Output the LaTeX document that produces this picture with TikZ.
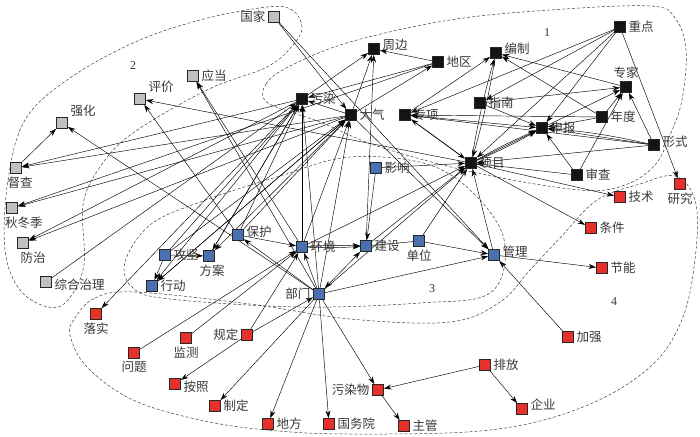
\documentclass[tikz,border=0pt]{standalone}
\usepackage{fontspec}
\setmainfont{Liberation Serif}
\newfontfamily\cjk{Noto Sans CJK SC}
\usetikzlibrary{arrows.meta}
\definecolor{myblue}{HTML}{4A70B0}
\definecolor{myred}{HTML}{E8302A}
\definecolor{mygray}{HTML}{C0C0C0}
\pgfdeclarelayer{bg}
\pgfsetlayers{bg,main}
\begin{document}
\begin{tikzpicture}[x=1pt,y=-1pt,
 nd/.style={draw=black!85, line width=0.8pt, minimum size=11pt, inner sep=0pt},
 bk/.style={nd, fill=black!92},
 gy/.style={nd, fill=mygray},
 bl/.style={nd, fill=myblue},
 rd/.style={nd, fill=myred},
 lbl/.style={font=\cjk\fontsize{12.5}{12.5}\selectfont, text=black!78, inner sep=2.5pt},
 e/.style={-{Stealth[length=7.5pt,width=5pt]}, line width=0.45pt},
 ee/.style={{Stealth[length=7.5pt,width=5pt]}-{Stealth[length=7.5pt,width=5pt]}, line width=0.8pt},
 bound/.style={dash pattern=on 3pt off 2pt, line width=0.5pt, black!75},
 num/.style={font=\fontsize{12}{12}\selectfont, text=black!80},
]
\useasboundingbox (0,0) rectangle (700,436);

% cluster 1 (black)
\node[bk, label={[lbl]right:重点}] (zd) at (620,27) {};
\node[bk, label={[lbl,yshift=4pt]right:周边}] (zb) at (374,49) {};
\node[bk, label={[lbl,yshift=4pt]right:编制}] (bz) at (496,53) {};
\node[bk, label={[lbl]right:地区}] (dq) at (438,62) {};
\node[bk, label={[lbl]above:专家}] (zj) at (626,87) {};
\node[bk, label={[lbl]right:污染}] (wr) at (302,99) {};
\node[bk, label={[lbl]right:大气}] (dqi) at (351,115) {};
\node[bk, label={[lbl]right:专项}] (zx) at (405,115) {};
\node[bk, label={[lbl]right:指南}] (zn) at (480,103) {};
\node[bk, label={[lbl]right:年度}] (ndu) at (602,117) {};
\node[bk, label={[lbl]right:申报}] (sb) at (542,128) {};
\node[bk, label={[lbl,yshift=3pt]right:形式}] (xs) at (654,145) {};
\node[bk, label={[lbl]right:项目}] (xm) at (471,163) {};
\node[bk, label={[lbl]right:审查}] (sc) at (577,175) {};

% cluster 2 (gray)
\node[gy, label={[lbl]left:国家}] (gj) at (274,17) {};
\node[gy, label={[lbl]right:应当}] (yd) at (193,76) {};
\node[gy, label={[lbl,yshift=-2pt]above right:评价}] (pj) at (140,99) {};
\node[gy, label={[lbl,yshift=-2pt]above right:强化}] (qh) at (62,123) {};
\node[gy, label={[lbl,xshift=4pt]below:督查}] (dc) at (16,168) {};
\node[gy, label={[lbl,xshift=12pt]below:秋冬季}] (qdj) at (12,208) {};
\node[gy, label={[lbl,xshift=10pt]below:防治}] (fz) at (23,243) {};
\node[gy, label={[lbl,yshift=-3pt]right:综合治理}] (zhzl) at (46,282) {};

% cluster 3 (blue)
\node[bl, label={[lbl]right:影响}] (yx) at (376,168) {};
\node[bl, label={[lbl,yshift=3pt]right:保护}] (bh) at (238,235) {};
\node[bl, label={[lbl]right:环境}] (hj) at (302,247) {};
\node[bl, label={[lbl]right:攻坚}] (gjian) at (165,255) {};
\node[bl, label={[lbl,xshift=3pt]below:方案}] (fa) at (209,256) {};
\node[bl, label={[lbl]right:建设}] (js) at (366,246) {};
\node[bl, label={[lbl]below:单位}] (dw) at (419,241) {};
\node[bl, label={[lbl,yshift=3pt]right:管理}] (gl) at (494,255) {};
\node[bl, label={[lbl]right:行动}] (xd) at (152,286) {};
\node[bl, label={[lbl]left:部门}] (bm) at (319,294) {};

% cluster 4 (red)
\node[rd, label={[lbl]right:技术}] (jsh) at (620,197) {};
\node[rd, label={[lbl]below:研究}] (yj) at (680,184) {};
\node[rd, label={[lbl]right:条件}] (tj) at (591,228) {};
\node[rd, label={[lbl]right:节能}] (jn) at (602,268) {};
\node[rd, label={[lbl]below:落实}] (ls) at (96,314) {};
\node[rd, label={[lbl]left:规定}] (gd) at (247,335) {};
\node[rd, label={[lbl]right:加强}] (jq) at (568,337) {};
\node[rd, label={[lbl]below:监测}] (jc) at (186,338) {};
\node[rd, label={[lbl]below:问题}] (wt) at (134,353) {};
\node[rd, label={[lbl]right:排放}] (pf) at (485,365) {};
\node[rd, label={[lbl,yshift=-3pt]right:按照}] (az) at (175,384) {};
\node[rd, label={[lbl]left:污染物}] (wrw) at (378,390) {};
\node[rd, label={[lbl]right:制定}] (zdi) at (215,406) {};
\node[rd, label={[lbl,yshift=4pt]right:企业}] (qy) at (522,409) {};
\node[rd, label={[lbl]right:地方}] (df) at (268,424) {};
\node[rd, label={[lbl]right:国务院}] (gwy) at (329,424) {};
\node[rd, label={[lbl]right:主管}] (zg) at (404,426) {};

\node[num] (n1) at (547,33) {1};
\node[num] (n2) at (133,66) {2};
\node[num] (n3) at (432,289) {3};
\node[num] (n4) at (614,302) {4};

\begin{pgfonlayer}{bg}
% cluster outlines
\draw[bound] plot[smooth cycle, tension=0.6] coordinates {(268,103) (266,84) (290,66) (350,42) (450,20) (550,10) (650,6) (675,18) (686,50) (682,100) (670,135) (655,165) (625,185) (580,190) (477,173) (380,147) (320,122)};
\draw[bound] plot[smooth cycle, tension=0.6] coordinates {(5,250) (8,180) (25,120) (67,80) (133,43) (200,20) (267,7) (292,10) (302,27) (293,45) (267,67) (207,90) (133,133) (100,167) (83,205) (84,265) (68,300) (48,307) (20,290)};
\draw[bound] plot[smooth cycle, tension=0.6] coordinates {(125,262) (150,225) (200,202) (280,176) (350,157) (430,165) (480,200) (505,245) (490,293) (420,303) (300,307) (170,299) (133,288)};
\draw[bound] plot[smooth cycle, tension=0.6] coordinates {(75,318) (95,298) (135,292) (250,304) (350,319) (450,322) (500,302) (530,270) (560,238) (597,200) (640,184) (675,176) (695,200) (696,250) (683,317) (650,367) (583,407) (490,430) (350,434) (267,430) (200,420) (133,400) (87,367) (70,335)};

% edges cluster 1
\draw[e] (dq) -- (zb);
\draw[e] (dqi) -- (zb);
\draw[e] (wr) -- (zb);
\draw[e] (js) -- (zb);
\draw[e] (dqi) -- (dq);
\draw[e] (dq) -- (wr);
\draw[e] (dqi) -- (wr);
\draw[ee] (zx) -- (xm);
\draw[e] (zx) -- (bz);
\draw[e] (xm) to[bend left=3] (bz);
\draw[e] (bz) to[bend left=3] (xm);
\draw[e] (zj) -- (bz);
\draw[e] (ndu) -- (bz);
\draw[e] (zd) -- (xm);
\draw[e] (zd) -- (sb);
\draw[e] (zd) -- (yj);
\draw[e] (zd) -- (zn);
\draw[e] (zd) -- (zx);
\draw[e] (zn) -- (zj);
\draw[e] (zn) -- (sb);
\draw[e] (zx) -- (sb);
\draw[e] (ndu) -- (zx);
\draw[e] (xs) -- (zx);
\draw[e] (xm) to[bend left=3] (sb);
\draw[e] (xm) -- (sb);
\draw[e] (xm) to[bend right=3] (sb);
\draw[e] (sb) -- (zj);
\draw[e] (ndu) -- (zj);
\draw[e] (xs) -- (zj);
\draw[e] (sc) -- (zj);
\draw[e] (sc) -- (sb);
\draw[e] (xs) -- (sb);
\draw[e] (xs) to[bend right=4] (sb);
\draw[e] (ndu) -- (sb);
\draw[e] (xs) -- (xm);
\draw[e] (sc) -- (xm);
\draw[e] (xm) -- (jsh);
\draw[e] (xm) -- (tj);
\draw[e] (xm) -- (pj);

% edges cluster 2
\draw[e] (wr) -- (dc);
\draw[e] (dqi) -- (dc);
\draw[e] (dq) -- (qdj);
\draw[e] (dqi) -- (qdj);
\draw[e] (dqi) -- (fz);
\draw[e] (wr) -- (fz);
\draw[e] (dc) -- (qh);
\draw[e] (bm) -- (qh);
\draw[e] (zhzl) -- (wr);
\draw[e] (hj) -- (yd);
\draw[e] (bm) -- (yd);
\draw[e] (bh) -- (pj);
\draw[e] (wr) -- (ls);
\draw[e] (gj) -- (gl);
\draw[e] (gj) -- (dqi);

% edges cluster 3
\draw[e] (hj) -- (wr);
\draw[e] (hj) -- (dqi);
\draw[e] (bm) -- (wr);
\draw[e] (bm) -- (dqi);
\draw[e] (bh) -- (wr);
\draw[e] (bh) -- (dqi);
\draw[e] (gjian) -- (wr);
\draw[e] (gjian) -- (dqi);
\draw[e] (fa) -- (wr);
\draw[e] (xd) -- (dqi);
\draw[e] (wr) -- (fa);
\draw[e] (dqi) -- (fa);
\draw[e] (wr) -- (xd);
\draw[e] (dqi) -- (xd);
\draw[e] (gjian) -- (fa);
\draw[e] (gjian) -- (xd);
\draw[e] (hj) to[bend left=3] (js);
\draw[e] (hj) to[bend right=3] (js);
\draw[e] (yx) -- (js);
\draw[ee, line width=0.45pt] (bm) -- (js);
\draw[e] (bm) -- (hj);
\draw[e] (bm) -- (bh);
\draw[e] (bh) -- (hj);
\draw[line width=0.45pt] (dw) -- (js);
\draw[e] (dw) -- (gl);
\draw[e] (dw) -- (xm);
\draw[e] (bm) -- (gl);
\draw[e] (dqi) -- (gl);
\draw[e] (gl) -- (xm);
\draw[e] (hj) -- (xm);
\draw[e] (bm) -- (xm);
\draw[e] (js) -- (xm);
\draw[e] (yx) -- (xm);
\draw[e] (jq) -- (gl);
\draw[e] (gl) -- (jn);

% edges cluster 4
\draw[e] (wt) -- (hj);
\draw[e] (jc) -- (hj);
\draw[e] (gd) -- (hj);
\draw[e] (gd) -- (bm);
\draw[e] (gd) -- (az);
\draw[e] (bm) -- (zdi);
\draw[e] (bm) -- (df);
\draw[e] (bm) -- (gwy);
\draw[e] (bm) -- (wrw);
\draw[e] (wrw) -- (zg);
\draw[e] (pf) -- (wrw);
\draw[e] (pf) -- (qy);
\end{pgfonlayer}
\end{tikzpicture}
\end{document}
